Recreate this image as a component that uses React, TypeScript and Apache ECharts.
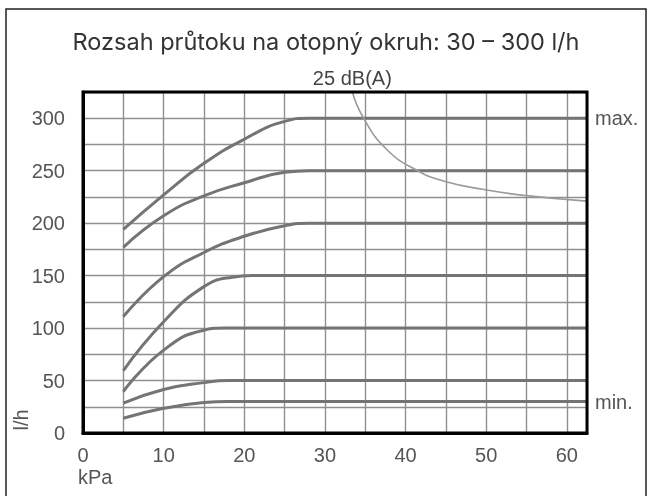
import React, { useEffect, useRef } from "react";
import * as echarts from "echarts";

const titleText = "Rozsah průtoku na otopný okruh: 30 – 300 l/h";
const xTicks = [0, 10, 20, 30, 40, 50, 60];
const yTicks = [0, 50, 100, 150, 200, 250, 300];

const curveMax = [[5, 194], [10, 227], [15, 257], [20, 280], [25, 297], [28, 300], [35, 300], [62.5, 300]];
const curve250 = [[5, 177], [10, 207], [15, 226], [20, 238.5], [25, 248.5], [28, 250], [35, 250], [62.5, 250]];
const curve200 = [[5, 111], [10, 149], [15, 172], [20, 187.5], [25, 197.5], [28, 200], [35, 200], [62.5, 200]];
const curve150 = [[5, 59.5], [10, 106], [15, 139.5], [18.5, 148.5], [21, 150], [30, 150], [62.5, 150]];
const curve100 = [[5, 39.5], [10, 79], [15, 98], [17.5, 100], [25, 100], [62.5, 100]];
const curve50 = [[5, 28.5], [10, 41.5], [15, 48], [18, 50], [25, 50], [62.5, 50]];
const curveMin = [[5, 14], [10, 23.5], [15, 29], [18, 30], [25, 30], [62.5, 30]];
const curveNoise = [[33.4, 325], [34.8, 300], [37.7, 270], [41.5, 250], [44.8, 240], [49.7, 232], [54.7, 226.5], [62.5, 221]];

const LABEL_FONT = "'Liberation Sans', Arial, sans-serif";
const LABEL_SIZE = 20;
const LABEL_COLOR = "#555";

export default function App() {
  const ref = useRef<HTMLDivElement>(null);
  useEffect(() => {
    if (!ref.current) return;
    const chart = echarts.init(ref.current, null, { renderer: "svg" });
    const curveStyle = { color: "#747474", width: 3 };
    const mk = (data: number[][], end?: string) => ({
      type: "line",
      data,
      smooth: 0.5,
      showSymbol: false,
      symbol: "none",
      lineStyle: curveStyle,
      silent: true,
      z: 3,
      endLabel: end
        ? {
            show: true,
            formatter: end,
            fontFamily: LABEL_FONT,
            fontSize: LABEL_SIZE,
            color: LABEL_COLOR,
            distance: 8,
          }
        : { show: false },
    });
    chart.setOption({
      animation: false,
      title: {
        text: titleText,
        left: "center",
        top: 24,
        textStyle: { fontFamily: "Inter, 'Noto Sans', sans-serif", fontSize: 23.5, fontWeight: 400, color: "#333" },
      },
      graphic: [
        {
          type: "rect",
          shape: { x: 6, y: 9, width: 640, height: 495 },
          style: { fill: "none", stroke: "#222", lineWidth: 1.5 },
          silent: true,
        },
        {
          type: "text",
          x: 21,
          y: 420,
          rotation: Math.PI / 2,
          style: { text: "l/h", fontFamily: LABEL_FONT, fontSize: LABEL_SIZE, fill: LABEL_COLOR, textAlign: "center", textVerticalAlign: "middle" },
        },
        {
          type: "text",
          x: 78,
          y: 467,
          style: { text: "kPa", fontFamily: LABEL_FONT, fontSize: LABEL_SIZE, fill: LABEL_COLOR },
        },
      ],
      grid: {
        left: 83,
        top: 92,
        right: 65,
        bottom: 63,
        show: true,
        borderColor: "#000",
        borderWidth: 3,
        backgroundColor: "transparent",
        z: 4,
      },
      xAxis: {
        type: "value",
        min: 0,
        max: 62.5,
        interval: 5,
        axisLine: { show: true, lineStyle: { color: "#000", width: 3 } },
        axisTick: { show: false },
        axisLabel: {
          formatter: (v: number) => (xTicks.includes(v) ? String(v) : ""),
          fontFamily: LABEL_FONT,
          fontSize: LABEL_SIZE,
          color: LABEL_COLOR,
          margin: 12,
          showMaxLabel: false,
        },
        splitLine: { show: true, lineStyle: { color: "#8f8f8f", width: 1.4 } },
      },
      yAxis: {
        type: "value",
        min: 0,
        max: 325,
        interval: 25,
        axisLine: { show: true, lineStyle: { color: "#000", width: 3 } },
        axisTick: { show: false },
        axisLabel: {
          formatter: (v: number) => (yTicks.includes(v) ? String(v) : ""),
          fontFamily: LABEL_FONT,
          fontSize: LABEL_SIZE,
          color: LABEL_COLOR,
          margin: 18,
        },
        splitLine: { show: true, lineStyle: { color: "#8f8f8f", width: 1.4 } },
      },
      series: [
        mk(curveMax, "max."),
        mk(curve250),
        mk(curve200),
        mk(curve150),
        mk(curve100),
        mk(curve50),
        mk(curveMin, "min."),
        {
          type: "line",
          data: curveNoise,
          smooth: 0.5,
          showSymbol: false,
          symbol: "none",
          silent: true,
          lineStyle: { color: "#9a9a9a", width: 1.6 },
          z: 3,
          markPoint: {
            silent: true,
            symbol: "circle",
            symbolSize: 1,
            itemStyle: { color: "rgba(0,0,0,0)" },
            label: {
              show: true,
              position: "top",
              distance: 4,
              formatter: "25 dB(A)",
              fontFamily: LABEL_FONT,
              fontSize: LABEL_SIZE,
              color: "#444",
            },
            data: [{ coord: curveNoise[0] }],
          },
        },
      ],
    });
    return () => chart.dispose();
  }, []);
  return <div ref={ref} style={{ width: 652, height: 496, position: "fixed", left: 0, top: 0 }} />;
}
